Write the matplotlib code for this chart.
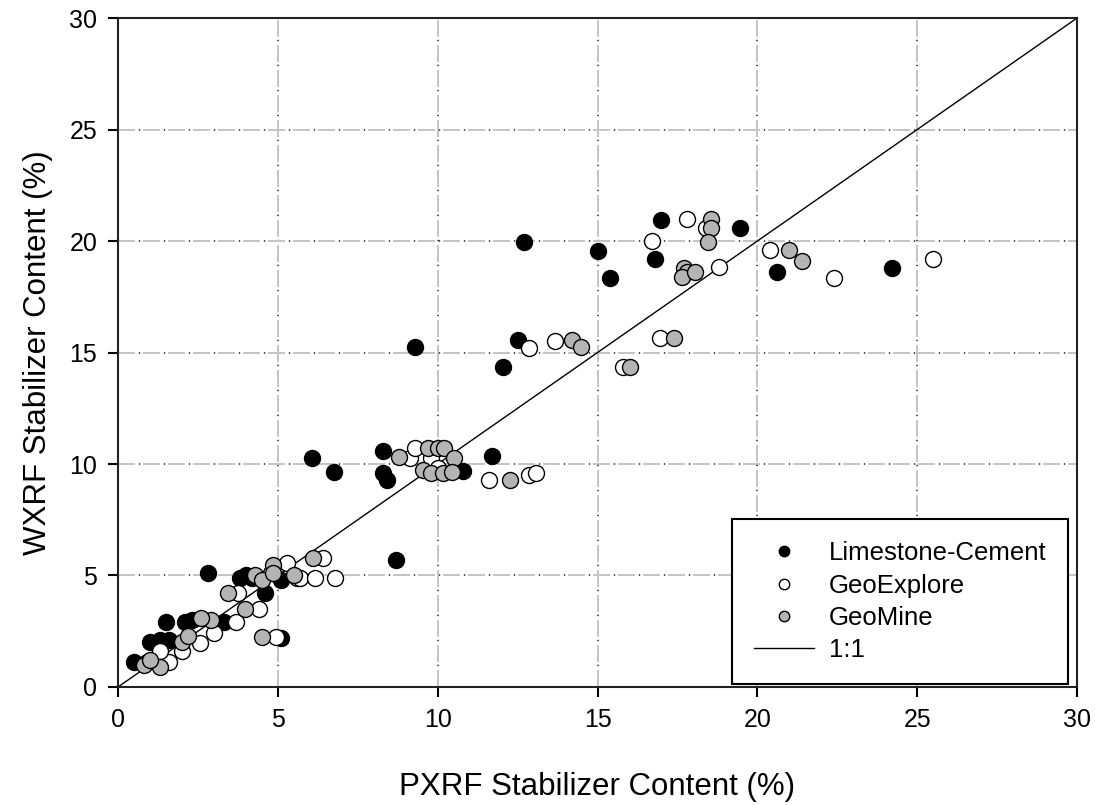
import matplotlib
matplotlib.use("Agg")
import matplotlib.pyplot as plt
from matplotlib.lines import Line2D

plt.rcParams['font.family'] = ['Liberation Sans', 'DejaVu Sans']
plt.rcParams['lines.scale_dashes'] = False

# Limestone-Cement (black)
lc_x = [0.5, 1.0, 1.3, 1.6, 1.5, 2.1, 2.3, 2.8, 3.3, 3.8, 4.0, 4.2, 4.6, 5.1, 5.1,
        6.07, 6.75, 8.3, 8.3, 8.4, 8.7, 9.3, 10.8, 11.7, 12.05, 12.5, 12.7,
        15.0, 15.4, 16.8, 17.0, 19.45, 20.6, 24.2]
lc_y = [1.1, 2.0, 2.1, 2.1, 2.9, 2.9, 3.0, 5.1, 2.9, 4.9, 5.0, 4.9, 4.2, 4.8, 2.2,
        10.27, 9.64, 10.6, 9.6, 9.3, 5.7, 15.25, 9.7, 10.35, 14.35, 15.55, 19.96,
        19.55, 18.35, 19.2, 20.95, 20.6, 18.6, 18.8]

# GeoExplore (white)
ge_x = [0.9, 1.6, 1.3, 2.0, 2.56, 3.0, 3.7, 3.75, 4.4, 4.95, 5.3, 5.6, 4.8, 5.7, 6.16,
        6.8, 6.4, 9.13, 9.3, 9.8, 10.0, 11.6, 12.86, 13.07, 12.86, 13.67, 15.8,
        16.95, 16.7, 17.8, 18.4, 18.8, 20.4, 22.4, 25.5]
ge_y = [1.1, 1.1, 1.6, 1.6, 1.97, 2.4, 2.9, 4.2, 3.5, 2.25, 5.55, 4.9, 5.1, 4.9, 4.9,
        4.9, 5.78, 10.27, 10.7, 10.27, 9.8, 9.3, 9.5, 9.6, 15.2, 15.5, 14.35,
        15.65, 20.0, 21.0, 20.6, 18.85, 19.6, 18.35, 19.2]

# GeoMine (gray)
gm_x = [0.8, 1.3, 1.0, 2.0, 2.2, 2.9, 2.6, 3.45, 3.97, 4.3, 4.5, 4.85, 4.85, 4.5, 5.5,
        6.1, 8.8, 9.7, 10.0, 10.2, 10.5, 9.55, 9.8, 10.17, 10.45, 12.26, 14.2, 14.48,
        16.0, 17.4, 17.7, 17.8, 17.65, 18.05, 18.55, 18.55, 18.45, 21.0, 21.4]
gm_y = [1.0, 0.9, 1.2, 2.0, 2.3, 3.0, 3.1, 4.2, 3.5, 5.0, 4.8, 5.45, 5.1, 2.25, 5.0,
        5.78, 10.3, 10.7, 10.7, 10.7, 10.27, 9.73, 9.6, 9.6, 9.64, 9.3, 15.55, 15.25,
        14.35, 15.65, 18.8, 18.6, 18.4, 18.6, 21.0, 20.6, 19.96, 19.6, 19.1]

ticks = [0, 5, 10, 15, 20, 25, 30]
grid_vals = [5, 10, 15, 20, 25]

fig = plt.figure(figsize=(10.95, 8.05), dpi=100)
ax = fig.add_axes([0.1078, 0.1466, 0.8758, 0.831])

# grid: light gray dashes with dark dots in the gaps
for g in grid_vals:
    for fn in (ax.axvline, ax.axhline):
        fn(g, color='#c4c4c4', lw=1.4, ls=(0, (12.2, 5.8)), zorder=1)
        fn(g, color='#505050', lw=1.4, ls=(-15.0, (1.0, 17.0)), zorder=1)

ax.plot([0, 30], [0, 30], color='black', lw=1.0, zorder=2)

ms = 11.5
ax.plot(lc_x, lc_y, 'o', ms=ms, mfc='black', mec='black', mew=1.0, zorder=3)
ax.plot(ge_x, ge_y, 'o', ms=ms, mfc='white', mec='black', mew=1.0, zorder=3)
ax.plot(gm_x, gm_y, 'o', ms=ms, mfc='#b4b4b4', mec='black', mew=1.0, zorder=3)

ax.set_xlim(0, 30)
ax.set_ylim(0, 30)
ax.set_xticks(ticks)
ax.set_yticks(ticks)
ax.tick_params(direction='out', length=7, width=1.5, labelsize=18,
               top=False, right=False, pad=8)
for s in ax.spines.values():
    s.set_linewidth(1.5)
    s.set_color('#222222')

ax.set_xlabel('PXRF Stabilizer Content (%)', fontsize=22.5, labelpad=29)
ax.set_ylabel('WXRF Stabilizer Content (%)', fontsize=22.5, labelpad=12)

handles = [
    Line2D([], [], ls='none', marker='o', ms=7.5, mfc='black', mec='black'),
    Line2D([], [], ls='none', marker='o', ms=7.5, mfc='white', mec='black'),
    Line2D([], [], ls='none', marker='o', ms=7.5, mfc='#b4b4b4', mec='black'),
    Line2D([], [], color='black', lw=1.0),
]
labels = ['Limestone-Cement', 'GeoExplore', 'GeoMine', '1:1']
leg = ax.legend(handles, labels, loc='lower right', bbox_to_anchor=(0.991, 0.004),
                fontsize=18.5, frameon=True, fancybox=False, edgecolor='black',
                framealpha=1, borderpad=0.85, labelspacing=0.33, handlelength=2.33,
                handletextpad=0.6, borderaxespad=0)
leg.get_frame().set_linewidth(1.5)

fig.savefig('out.png', dpi=100)
